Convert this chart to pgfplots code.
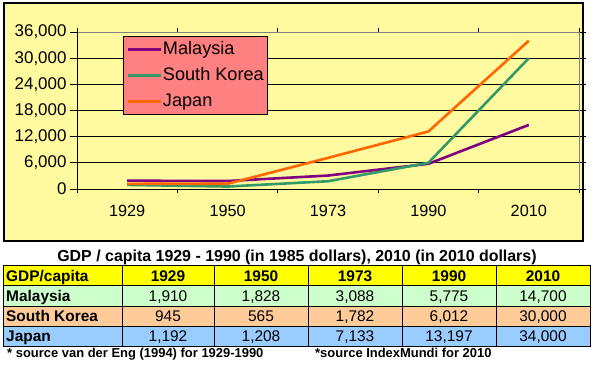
\documentclass[border=0pt]{standalone}
\usepackage{pgfplots}
\pgfplotsset{compat=1.18}
\usepackage{fontspec}
\setmainfont{Liberation Sans}
\definecolor{bgyellow}{RGB}{255,250,160}
\definecolor{malay}{RGB}{128,0,128}
\definecolor{korea}{RGB}{51,153,102}
\definecolor{japan}{RGB}{255,102,0}
\definecolor{legfill}{RGB}{255,128,128}
\definecolor{hdr}{RGB}{255,255,0}
\definecolor{rowg}{RGB}{204,255,204}
\definecolor{rowo}{RGB}{255,204,153}
\definecolor{rowb}{RGB}{153,204,255}
\begin{document}
\begin{tikzpicture}
\begin{scope}[x=1bp,y=-1bp]
\fill[white] (0,0) rectangle (593,365);
\draw[line width=1.2bp, fill=bgyellow] (4,3) rectangle (583,241);
\end{scope}
\begin{axis}[
  at={(77bp,-189bp)}, anchor=south west,
  scale only axis, width=502bp, height=157bp,
  xmin=-0.5, xmax=4.5, ymin=0, ymax=36000,
  xtick={0,1,2,3,4},
  xticklabels={1929,1950,1973,1990,2010},
  minor xtick={-0.5,0.5,1.5,2.5,3.5,4.5},
  major x tick style={draw=none},
  ytick={0,6000,12000,18000,24000,30000,36000},
  scaled y ticks=false,
  tick align=outside,
  major tick length=7bp, minor tick length=4bp,
  every tick/.style={black, line width=0.8bp},
  ymajorgrids, grid style={black, line width=0.8bp},
  axis line style={draw=gray, line width=0.8bp},
  /pgf/number format/.cd, 1000 sep={,}, assume math mode=true,
  /pgfplots/.cd,
  y tick label style={font=\fontsize{17}{20}\selectfont},
  x tick label style={font=\fontsize{16.3}{19}\selectfont, yshift=-5.5bp},
  legend style={at={(0.0916,0.975)}, anchor=north west,
    fill=legfill, draw=black, line width=0.8bp,
    font=\fontsize{18.2}{21}\selectfont,
    inner xsep=3bp, inner ysep=4bp, row sep=8bp,
    nodes={inner sep=1bp, text height=13bp, text depth=3bp}},
  legend cell align=left,
  legend image code/.code={\draw[#1] (0bp,0bp) -- (33bp,0bp);},
]
\addplot[malay, line width=2.6bp] coordinates {(0,1910) (1,1828) (2,3088) (3,5775) (4,14700)};
\addlegendentry{Malaysia}
\addplot[korea, line width=2.6bp] coordinates {(0,945) (1,565) (2,1782) (3,6012) (4,30000)};
\addlegendentry{South Korea}
\addplot[japan, line width=2.6bp] coordinates {(0,1192) (1,1208) (2,7133) (3,13197) (4,34000)};
\addlegendentry{Japan}
\draw[black, line width=0.9bp] (rel axis cs:0,1) -- (rel axis cs:0,0) -- (rel axis cs:1,0);
\end{axis}
\begin{scope}[x=1bp,y=-1bp]
\node[anchor=base, font=\fontsize{16}{19}\selectfont\bfseries, inner sep=0pt] at (297,261.5)
  {GDP / capita 1929 - 1990 (in 1985 dollars), 2010 (in 2010 dollars)};
\fill[hdr] (3,265) rectangle (590,285);
\fill[rowg] (3,285) rectangle (590,306);
\fill[rowo] (3,306) rectangle (590,326);
\fill[rowb] (3,326) rectangle (590,346);
\draw[line width=1bp] (3,265) rectangle (590,346);
\foreach \yy in {285,306,326} \draw[line width=1bp] (3,\yy) -- (590,\yy);
\foreach \xx in {122,214,308,402,496} \draw[line width=1bp] (\xx,265) -- (\xx,346);
\begin{scope}[every node/.style={anchor=base, inner sep=0pt, font=\fontsize{15.5}{18}\selectfont}]
\node[anchor=base west, font=\fontsize{15.5}{18}\selectfont\bfseries] at (6,281) {GDP/capita};
\node[font=\fontsize{15.5}{18}\selectfont\bfseries] at (168,281) {1929};
\node[font=\fontsize{15.5}{18}\selectfont\bfseries] at (261,281) {1950};
\node[font=\fontsize{15.5}{18}\selectfont\bfseries] at (355,281) {1973};
\node[font=\fontsize{15.5}{18}\selectfont\bfseries] at (449,281) {1990};
\node[font=\fontsize{15.5}{18}\selectfont\bfseries] at (543,281) {2010};
\node[anchor=base west, font=\fontsize{15.5}{18}\selectfont\bfseries] at (6,301.3) {Malaysia};
\node at (168,301.3) {1,910};
\node at (261,301.3) {1,828};
\node at (355,301.3) {3,088};
\node at (449,301.3) {5,775};
\node at (543,301.3) {14,700};
\node[anchor=base west, font=\fontsize{15.5}{18}\selectfont\bfseries] at (6,321) {South Korea};
\node at (168,321) {945};
\node at (261,321) {565};
\node at (355,321) {1,782};
\node at (449,321) {6,012};
\node at (543,321) {30,000};
\node[anchor=base west, font=\fontsize{15.5}{18}\selectfont\bfseries] at (6,341) {Japan};
\node at (168,341) {1,192};
\node at (261,341) {1,208};
\node at (355,341) {7,133};
\node at (449,341) {13,197};
\node at (543,341) {34,000};
\node[anchor=base west, font=\fontsize{13}{15}\selectfont\bfseries] at (7,357) {* source van der Eng (1994) for 1929-1990};
\node[anchor=base west, font=\fontsize{13}{15}\selectfont\bfseries] at (315,357) {*source IndexMundi for 2010};
\end{scope}
\end{scope}
\end{tikzpicture}
\end{document}
